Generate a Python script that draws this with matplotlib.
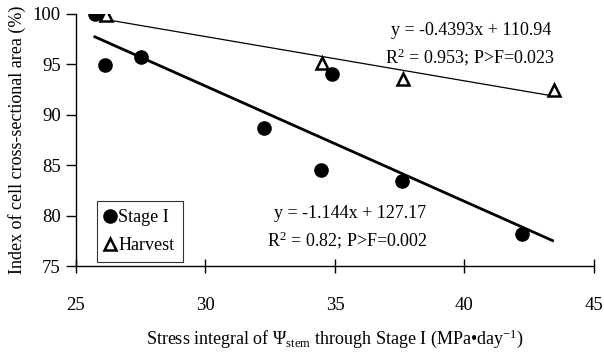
import matplotlib
matplotlib.use("Agg")
import matplotlib.pyplot as plt
import numpy as np

# Stage I measurements (stress integral, index of cell area)
stage1_x = [25.73, 26.12, 27.51, 32.26, 34.46, 34.87, 37.59, 42.21]
stage1_y = [100.0, 94.9, 95.7, 88.7, 84.5, 94.0, 83.4, 78.2]

# Harvest measurements
harvest_x = [26.16, 34.49, 37.64, 43.46]
harvest_y = [99.9, 95.1, 93.6, 92.5]

# Fitted regression lines
stage1_fit = (-1.144, 127.17)
harvest_fit = (-0.4393, 110.94)

xticks = [25, 30, 35, 40, 45]
yticks = [75, 80, 85, 90, 95, 100]

plt.rcParams["font.family"] = ["Liberation Serif", "DejaVu Serif"]
plt.rcParams["mathtext.fontset"] = "custom"
plt.rcParams["mathtext.rm"] = "Liberation Serif"
plt.rcParams["mathtext.it"] = "Liberation Serif"

fig = plt.figure(figsize=(6.04, 3.57), dpi=100)
ax = fig.add_axes([0.1258, 0.2549, 0.8576, 0.7059])

# Regression lines
xs1 = np.array([min(stage1_x), 43.4])
ax.plot(xs1, stage1_fit[0] * xs1 + stage1_fit[1], color="black", lw=2.0, zorder=2)
xs2 = np.array([25.95, max(harvest_x)])
ax.plot(xs2, harvest_fit[0] * xs2 + harvest_fit[1], color="black", lw=0.9, zorder=2)

# Data points
ax.plot(stage1_x, stage1_y, "o", color="black", ms=9.5, ls="none",
        label="Stage I", zorder=3)
ax.plot(harvest_x, harvest_y, "^", mfc="white", mec="black", mew=1.8, ms=8,
        ls="none", label="Harvest", zorder=3)

ax.set_xlim(25, 45)
ax.set_ylim(75, 100)
ax.set_xticks(xticks)
ax.set_yticks(yticks)
ax.spines["top"].set_visible(False)
ax.spines["right"].set_visible(False)
ax.spines["left"].set_linewidth(1.0)
ax.spines["bottom"].set_linewidth(1.0)
ax.tick_params(axis="x", direction="inout", length=10, width=1.0,
               labelsize=13.5, pad=17)
ax.tick_params(axis="y", direction="out", length=7, width=1.0,
               labelsize=13.5, pad=4)

ax.set_ylabel("Index of cell cross-sectional area (%)", fontsize=13, labelpad=5)
ax.set_xlabel(r"Stress integral of $\Psi_{\mathrm{stem}}$ through Stage I (MPa•day$^{-1}$)",
              fontsize=13, labelpad=10)

# Regression equations
ax.text(0.762, 0.933, "y = -0.4393x + 110.94", transform=ax.transAxes,
        ha="center", va="center", fontsize=13)
ax.text(0.76, 0.829, r"R$^{2}$ = 0.953; P>F=0.023", transform=ax.transAxes,
        ha="center", va="center", fontsize=13)
ax.text(0.529, 0.21, "y = -1.144x + 127.17", transform=ax.transAxes,
        ha="center", va="center", fontsize=13)
ax.text(0.525, 0.103, r"R$^{2}$ = 0.82; P>F=0.002", transform=ax.transAxes,
        ha="center", va="center", fontsize=13)

leg = ax.legend(loc="lower left", bbox_to_anchor=(0.04, 0.015), fontsize=13,
                frameon=True, fancybox=False, edgecolor="black",
                handlelength=0.6, handletextpad=0.15, borderpad=0.45,
                labelspacing=0.6, borderaxespad=0.0)
leg.get_frame().set_linewidth(0.8)

fig.savefig("out.png", dpi=100)
